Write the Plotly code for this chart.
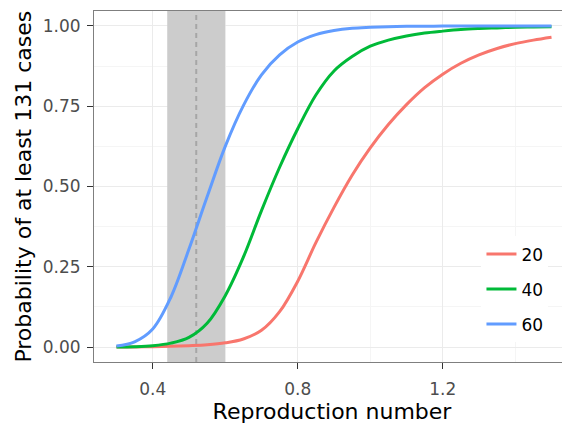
import plotly.graph_objects as go

# Data
reproduction_number = [0.30, 0.35, 0.40, 0.45, 0.50, 0.55, 0.60, 0.65, 0.70, 0.75,
                       0.80, 0.85, 0.90, 0.95, 1.00, 1.05, 1.10, 1.15, 1.20, 1.25,
                       1.30, 1.35, 1.40, 1.45, 1.50]
prob_20 = [0.000, 0.000, 0.001, 0.002, 0.004, 0.007, 0.013, 0.025, 0.052, 0.110,
           0.205, 0.325, 0.435, 0.535, 0.620, 0.693, 0.755, 0.808, 0.850, 0.884,
           0.910, 0.930, 0.945, 0.956, 0.965]
prob_40 = [0.000, 0.001, 0.004, 0.012, 0.030, 0.074, 0.160, 0.280, 0.425, 0.560,
           0.680, 0.785, 0.860, 0.905, 0.937, 0.956, 0.969, 0.978, 0.984, 0.989,
           0.992, 0.994, 0.996, 0.997, 0.998]
prob_60 = [0.003, 0.016, 0.056, 0.155, 0.305, 0.468, 0.625, 0.752, 0.848, 0.910,
           0.950, 0.973, 0.986, 0.993, 0.996, 0.998, 0.999, 0.999, 1.000, 1.000,
           1.000, 1.000, 1.000, 1.000, 1.000]
series_names = ["20", "40", "60"]
series_colors = ["#F8766D", "#00BA38", "#619CFF"]

interval_low = 0.44
interval_high = 0.60
estimate = 0.52

x_ticks = [0.4, 0.8, 1.2]
x_tick_labels = ["0.4", "0.8", "1.2"]
x_minor = [0.2, 0.6, 1.0, 1.4]
y_ticks = [0.0, 0.25, 0.5, 0.75, 1.0]
y_tick_labels = ["0.00", "0.25", "0.50", "0.75", "1.00"]
y_minor = [0.125, 0.375, 0.625, 0.875]

x_title = "Reproduction number"
y_title = "Probability of at least 131 cases"

FONT = "DejaVu Sans"
X_RANGE = [0.238, 1.551]
Y_RANGE = [-0.0467, 1.0467]

fig = go.Figure()

# Shaded interval and dashed estimate (drawn as traces so they sit above the grid)
fig.add_trace(go.Scatter(
    x=[interval_low, interval_high, interval_high, interval_low],
    y=[Y_RANGE[0], Y_RANGE[0], Y_RANGE[1], Y_RANGE[1]],
    mode="lines", fill="toself", fillcolor="#cccccc", line=dict(width=0, color="#cccccc"),
    showlegend=False, hoverinfo="skip",
))
fig.add_trace(go.Scatter(
    x=[estimate, estimate], y=Y_RANGE, mode="lines",
    line=dict(color="#a6a6a6", width=2, dash="5px,4px"),
    showlegend=False, hoverinfo="skip",
))

for name, ys, color in zip(series_names, [prob_20, prob_40, prob_60], series_colors):
    fig.add_trace(go.Scatter(
        x=reproduction_number, y=ys, mode="lines", name=name, legendgroup=name,
        line=dict(color=color, width=3, shape="spline", smoothing=1.0),
    ))

axis_common = dict(
    showgrid=True, gridcolor="#ebebeb", gridwidth=1, zeroline=False,
    ticks="outside", ticklen=6, tickwidth=1, tickcolor="#333333",
    showline=True, linecolor="#7f7f7f", linewidth=1, automargin=False,
    tickfont=dict(family=FONT, size=17, color="#4d4d4d"),
)

# The page body adds an 8px offset, so the figure is sized to fit the 570x430 window.
fig.update_layout(
    width=562, height=422,
    margin=dict(l=86, r=0, t=3, b=68),
    paper_bgcolor="white", plot_bgcolor="white",
    font=dict(family=FONT, color="black"),
    xaxis=dict(
        range=X_RANGE, tickvals=x_ticks, ticktext=x_tick_labels, mirror=True,
        minor=dict(tickvals=x_minor, showgrid=True, gridcolor="#f5f5f5", ticks=""),
        title=dict(text=x_title, font=dict(family=FONT, size=22, color="black"), standoff=3),
        ticklabelstandoff=6,
        **axis_common,
    ),
    yaxis=dict(
        range=Y_RANGE, tickvals=y_ticks, ticktext=y_tick_labels,
        minor=dict(tickvals=y_minor, showgrid=True, gridcolor="#f5f5f5", ticks=""),
        ticklabelstandoff=3,
        **axis_common,
    ),
    annotations=[dict(
        text=y_title, textangle=-90, xref="paper", yref="paper",
        x=-0.149, y=0.5, xanchor="center", yanchor="middle", showarrow=False,
        font=dict(family=FONT, size=22, color="black"),
    )],
    legend=dict(
        x=0.814, xanchor="left", y=0.358, yanchor="top",
        bgcolor="white", borderwidth=0,
        font=dict(family=FONT, size=17, color="black"),
        tracegroupgap=10, itemwidth=30,
    ),
    showlegend=True,
)

fig.write_html("out.html")
